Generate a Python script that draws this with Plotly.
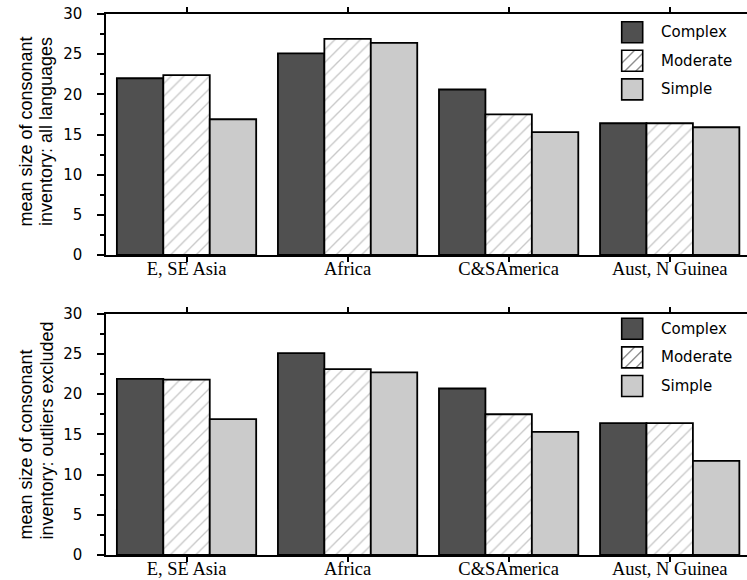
import plotly.graph_objects as go

# ---- data ----
regions = ["E, SE Asia", "Africa", "C&SAmerica", "Aust, N Guinea"]
series_names = ["Complex", "Moderate", "Simple"]

all_complex = [22.0, 25.1, 20.6, 16.4]
all_moderate = [22.4, 26.9, 17.5, 16.4]
all_simple = [16.9, 26.4, 15.3, 15.9]

excl_complex = [21.9, 25.1, 20.7, 16.4]
excl_moderate = [21.8, 23.1, 17.5, 16.4]
excl_simple = [16.9, 22.7, 15.3, 11.7]

y_tick_vals = [0, 5, 10, 15, 20, 25, 30]
y_title_top = ["mean size of consonant", "inventory: all languages"]
y_title_bottom = ["mean size of consonant", "inventory: outliers excluded"]

# ---- geometry ----
W, H = 747, 580
ML, MR, MT, MB = 106, 0, 14, 25
PW, PH = W - ML - MR, H - MT - MB

def px(xs):
    return (xs - ML) / PW

def py(ys):
    return (H - MB - ys) / PH

C_COMPLEX = "#505050"
C_SIMPLE = "#cbcbcb"
HATCH = "#8f8f8f"

top_domain = [py(255), 1.0]
bot_domain = [0.0, py(313.7)]

fig = go.Figure()

panels = [
    ("x", "y", [all_complex, all_moderate, all_simple]),
    ("x2", "y2", [excl_complex, excl_moderate, excl_simple]),
]

for xa, ya, vals in panels:
    for name, v in zip(series_names, vals):
        if name == "Complex":
            marker = dict(color=C_COMPLEX, line=dict(color="black", width=1.8))
        elif name == "Moderate":
            marker = dict(color="white", line=dict(color="black", width=1.8),
                          pattern=dict(shape="/", fgcolor=HATCH, bgcolor="white",
                                       size=9, solidity=0.15))
        else:
            marker = dict(color=C_SIMPLE, line=dict(color="black", width=1.8))
        fig.add_trace(go.Bar(x=regions, y=v, name=name, marker=marker,
                             xaxis=xa, yaxis=ya, showlegend=False))

xcommon = dict(
    range=[-0.5, 3.48], showline=True, linecolor="black", linewidth=1.5,
    mirror="ticks", ticks="outside", ticklen=5, tickwidth=1.5, tickcolor="black",
    tickfont=dict(family="Liberation Serif", size=18.5, color="black"),
    showgrid=False, zeroline=False, fixedrange=True,
    ticklabelstandoff=-9, ticklabeloverflow="allow",
)
ycommon = dict(
    range=[0, 30], tickvals=y_tick_vals, showline=True, linecolor="black",
    linewidth=1.5, ticks="outside", ticklen=7, tickwidth=1.5, tickcolor="black",
    tickfont=dict(family="DejaVu Sans", size=15, color="black"),
    minor=dict(dtick=2.5, ticks="outside", ticklen=4, tickwidth=1.5, tickcolor="black", showgrid=False),
    showgrid=False, zeroline=False, ticklabelstandoff=12, ticklabeloverflow="allow",
)

fig.update_layout(
    width=W, height=H,
    margin=dict(l=ML, r=MR, t=MT, b=MB, autoexpand=False),
    paper_bgcolor="white", plot_bgcolor="white",
    barmode="group", bargap=0.135, bargroupgap=0,
    xaxis=dict(**xcommon, anchor="y"),
    yaxis=dict(**ycommon, domain=top_domain, anchor="x"),
    xaxis2=dict(**xcommon, anchor="y2"),
    yaxis2=dict(**ycommon, domain=bot_domain, anchor="x2"),
    showlegend=False,
)

bg_shapes, hatch_shapes, box_shapes = [], [], []
annotations = []

# y-axis titles (two left-aligned rotated lines)
for lines, ybottom in [(y_title_top, 228.5), (y_title_bottom, 541.5)]:
    for i, line in enumerate(lines):
        annotations.append(dict(
            text=line, xref="paper", yref="paper",
            x=px(25 + 21 * i), y=py(ybottom), xanchor="center", yanchor="bottom",
            textangle=-90, showarrow=False,
            font=dict(family="Liberation Sans", size=18, color="black"),
        ))

# legends
box = 21
fills = {"Complex": C_COMPLEX, "Moderate": "white", "Simple": C_SIMPLE}
for top_first in [21.7, 318.3]:
    for i, name in enumerate(series_names):
        y0 = top_first + i * 28.6
        x0 = 621.7
        rect = dict(type="rect", xref="paper", yref="paper",
                    x0=px(x0), x1=px(x0 + box), y0=py(y0 + box), y1=py(y0),
                    layer="above")
        if name == "Moderate":
            bg_shapes.append(dict(rect, fillcolor="white", line=dict(width=0)))
            for c in [-8, 3, 14]:
                pts = []
                for u in [0, box]:
                    v = u - c
                    if 0 <= v <= box:
                        pts.append((u, v))
                for v in [0, box]:
                    u = v + c
                    if 0 <= u <= box:
                        pts.append((u, v))
                pts = sorted(set(pts))
                if len(pts) >= 2:
                    (u1, v1), (u2, v2) = pts[0], pts[-1]
                    hatch_shapes.append(dict(type="line", xref="paper", yref="paper",
                                             x0=px(x0 + u1), y0=py(y0 + box - v1),
                                             x1=px(x0 + u2), y1=py(y0 + box - v2),
                                             line=dict(color=HATCH, width=1.4), layer="above"))
            box_shapes.append(dict(rect, fillcolor="rgba(0,0,0,0)", line=dict(color="black", width=1.6)))
        else:
            box_shapes.append(dict(rect, fillcolor=fills[name], line=dict(color="black", width=1.6)))
        annotations.append(dict(
            text=name, xref="paper", yref="paper",
            x=px(658.5), y=py(y0 + box / 2), xanchor="left", yanchor="middle",
            showarrow=False, font=dict(family="DejaVu Sans", size=15, color="black"),
        ))

fig.update_layout(shapes=bg_shapes + hatch_shapes + box_shapes, annotations=annotations)

# remove the default 8px page margin so the figure fills the window exactly
fig.write_html("out.html", config={"displayModeBar": False},
               post_script="document.body.style.margin='0px';")
